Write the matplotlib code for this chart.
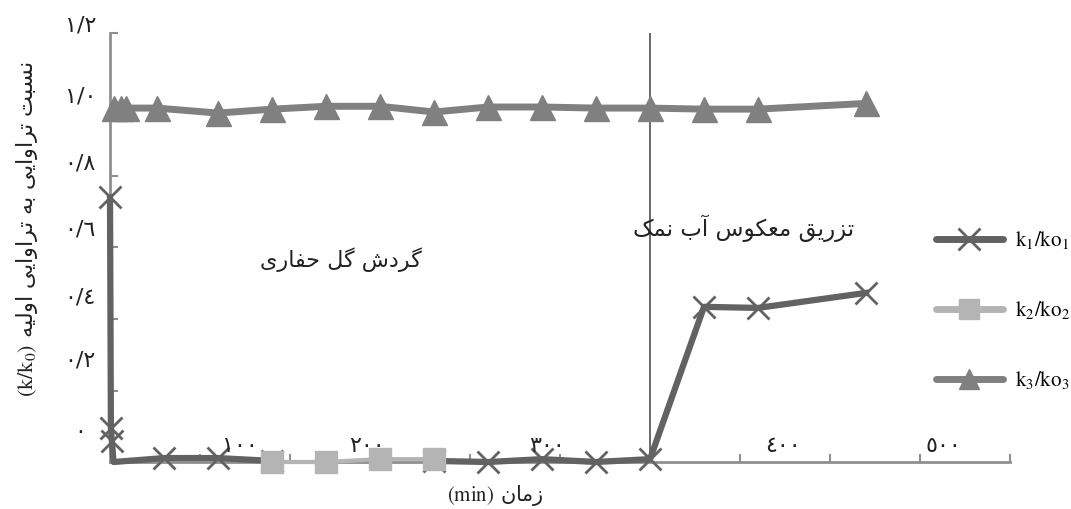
import numpy as np
import matplotlib
matplotlib.use('Agg')
import matplotlib.pyplot as plt
import matplotlib.transforms as mtransforms
from matplotlib.lines import Line2D

plt.rcParams['font.family'] = ['DejaVu Sans']
plt.rcParams['mathtext.fontset'] = 'stix'

# time (min) and k/k0
t1 = [0, 0.5, 1, 2, 30, 60, 90, 120, 150, 180, 210, 240, 270, 300, 330, 360, 420]
k1 = [0.74, 0.095, 0.06, 0.0, 0.011, 0.011, 0.003, np.nan, np.nan, 0.003,
      0.0, 0.008, 0.0, 0.008, 0.434, 0.431, 0.473]
t2 = [90, 120, 150, 180]
k2 = [0.0, 0.0, 0.008, 0.008]
t3 = [2, 6, 9, 26, 60, 90, 120, 150, 180, 210, 240, 270, 300, 330, 360, 420]
k3 = [0.99, 0.99, 0.99, 0.99, 0.976, 0.987, 0.995, 0.995, 0.979, 0.993,
      0.993, 0.99, 0.99, 0.987, 0.987, 1.003]
labels = [r'$\mathrm{k_1/ko_1}$', r'$\mathrm{k_2/ko_2}$', r'$\mathrm{k_3/ko_3}$']
t_switch = 300

# tick labels (arabic-indic digits) and where they sit in the original
ytick_text = ['٠', '٠/٢', '٠/٤', '٠/٦', '٠/٨', '١/٠', '١/٢']
ytick_text_pos = [0.084, 0.285, 0.459, 0.649, 0.836, 1.021, 1.222]
xtick_text = ['١٠٠', '٢٠٠', '٣٠٠', '٤٠٠', '٥٠٠']
xtick_text_pos = [72, 143, 243, 374, 463]

# --- minimal persian shaping (matplotlib has no text shaping) ---
FORMS = {
    'ا': ('\ufe8d', '\ufe8e', None, None),
    'آ': ('\ufe81', '\ufe82', None, None),
    'ب': ('\ufe8f', '\ufe90', '\ufe91', '\ufe92'),
    'ت': ('\ufe95', '\ufe96', '\ufe97', '\ufe98'),
    'ح': ('\ufea1', '\ufea2', '\ufea3', '\ufea4'),
    'د': ('\ufea9', '\ufeaa', None, None),
    'ر': ('\ufead', '\ufeae', None, None),
    'ز': ('\ufeaf', '\ufeb0', None, None),
    'س': ('\ufeb1', '\ufeb2', '\ufeb3', '\ufeb4'),
    'ش': ('\ufeb5', '\ufeb6', '\ufeb7', '\ufeb8'),
    'ع': ('\ufec9', '\ufeca', '\ufecb', '\ufecc'),
    'ف': ('\ufed1', '\ufed2', '\ufed3', '\ufed4'),
    'ق': ('\ufed5', '\ufed6', '\ufed7', '\ufed8'),
    'ل': ('\ufedd', '\ufede', '\ufedf', '\ufee0'),
    'م': ('\ufee1', '\ufee2', '\ufee3', '\ufee4'),
    'ن': ('\ufee5', '\ufee6', '\ufee7', '\ufee8'),
    'ه': ('\ufee9', '\ufeea', '\ufeeb', '\ufeec'),
    'و': ('\ufeed', '\ufeee', None, None),
    'ی': ('\ufbfc', '\ufbfd', '\ufbfe', '\ufbff'),
    'ک': ('\ufb8e', '\ufb8f', '\ufb90', '\ufb91'),
    'گ': ('\ufb92', '\ufb93', '\ufb94', '\ufb95'),
}


def shape(text):
    words = []
    for word in text.split(' '):
        s = ''
        for i, c in enumerate(word):
            f = FORMS.get(c)
            if f is None:
                s += c
                continue
            prev = word[i - 1] if i > 0 else ''
            nxt = word[i + 1] if i + 1 < len(word) else ''
            jp = prev in FORMS and FORMS[prev][2] is not None
            jn = nxt in FORMS and f[2] is not None
            if jp and jn:
                s += f[3]
            elif jp:
                s += f[1]
            elif jn:
                s += f[2]
            else:
                s += f[0]
        words.append(s)
    return ' '.join(words)[::-1]


c1, c2, c3 = '#626262', '#b4b4b4', '#808080'
axis_col = '#8f8f8f'

fig = plt.figure(figsize=(10.71, 5.09), dpi=100)
ax = fig.add_axes([110 / 1071, 47 / 509, 900 / 1071, 429 / 509])

ax.plot(t1, k1, color=c1, lw=4.5, marker='x', ms=16, mew=2,
        markevery=[0, 1, 2, 4, 5, 6, 9, 10, 11, 12, 13, 14, 15, 16],
        solid_joinstyle='round', clip_on=False, zorder=3)
ax.plot(t2, k2, color=c2, lw=3, marker='s', ms=16, clip_on=False, zorder=4)
ax.plot(t3, k3, color=c3, lw=5, marker='^', ms=18, clip_on=False, zorder=3)
ax.plot([t_switch, t_switch], [0, 1.2], color='#4f4f4f', lw=1.2, zorder=2)

ax.set_xlim(0, 500)
ax.set_ylim(0, 1.2)
for s in ['top', 'right']:
    ax.spines[s].set_visible(False)
for s in ['left', 'bottom']:
    ax.spines[s].set_color(axis_col)
    ax.spines[s].set_linewidth(2)

ax.set_xticks(np.arange(50, 501, 50))
ax.set_yticks(np.arange(0.2, 1.21, 0.2))
ax.tick_params(direction='in', length=6, width=1.5, color=axis_col,
               labelbottom=False, labelleft=False)

ytr = mtransforms.blended_transform_factory(ax.transAxes, ax.transData)
for txt, pos in zip(ytick_text, ytick_text_pos):
    ax.text(-0.033, pos, txt, transform=ytr, ha='center', va='center',
            fontsize=16, color='#222222', clip_on=False)
xtr = mtransforms.blended_transform_factory(ax.transData, ax.transAxes)
for txt, pos in zip(xtick_text, xtick_text_pos):
    ax.text(pos, 0.037, txt, transform=xtr, ha='center', va='center',
            fontsize=16, color='#222222', clip_on=False)

ax.text(128, 0.565, shape('گردش گل حفاری'), ha='center', va='center',
        fontsize=16, color='#222222')
ax.text(352, 0.655, shape('تزریق معکوس آب نمک'), ha='center', va='center',
        fontsize=16.5, color='#222222')

fig.text(495 / 1071, 13 / 509, r'$(\mathrm{min})$ ' + shape('زمان'), ha='center',
         va='center', fontsize=15, color='#222222')
fig.text(27 / 1071, 280 / 509,
         r'$(\mathrm{k/k_0})$ ' + shape('نسبت تراوایی به تراوایی اولیه'),
         rotation=90, ha='center', va='center', fontsize=16, color='#222222')

handles = [
    Line2D([], [], color=c1, lw=5, marker='x', ms=16, mew=2, solid_capstyle='round'),
    Line2D([], [], color=c2, lw=5, marker='s', ms=15, solid_capstyle='round'),
    Line2D([], [], color=c3, lw=5, marker='^', ms=15, solid_capstyle='round'),
]
fig.legend(handles, labels, loc='center left', bbox_to_anchor=(936 / 1071, 199 / 509),
           frameon=False, fontsize=15, handlelength=3.2, handletextpad=0.6,
           labelspacing=2.3, borderpad=0, borderaxespad=0)

fig.savefig('out.png', dpi=100)
